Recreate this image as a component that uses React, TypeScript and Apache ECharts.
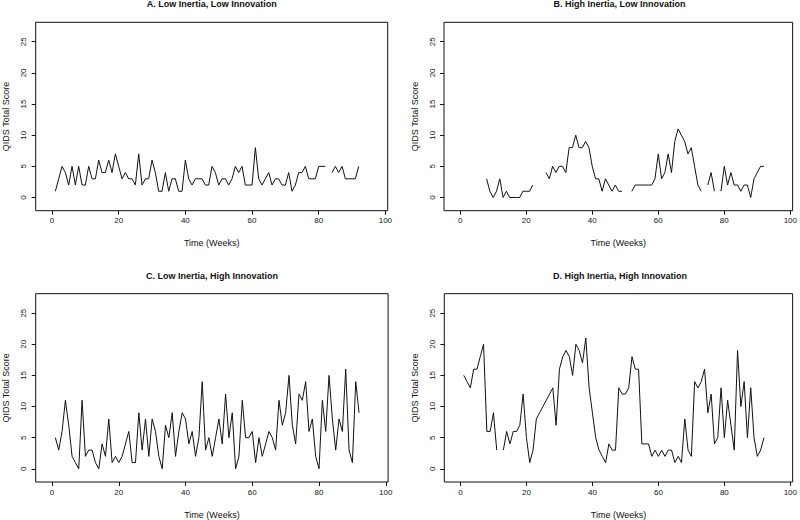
import React, { useEffect, useRef } from "react";
import * as echarts from "echarts";

const panelTitles = [
  "A. Low Inertia, Low Innovation",
  "B. High Inertia, Low Innovation",
  "C. Low Inertia, High Innovation",
  "D. High Inertia, High Innovation",
];

const xAxisTitle = "Time (Weeks)";
const yAxisTitle = "QIDS Total Score";

const xTicks = [0, 20, 40, 60, 80, 100];
const yTicks = [0, 5, 10, 15, 20, 25];

// QIDS scores by week (week 1..92); null = missing week
const lowInertiaLowInnovation = [
  1, 3, 5, 4, 2, 5, 2, 5, 2, 2, 5, 3, 3, 6, 4, 4, 6, 4, 7, 5,
  3, 4, 3, 3, 2, 7, 2, 3, 3, 6, 4, 1, 1, 4, 1, 3, 3, 1, 1, 6,
  3, 2, 3, 3, 3, 2, 2, 5, 4, 2, 3, 3, 2, 3, 5, 4, 5, 2, 2, 2,
  8, 3, 2, 3, 4, 2, 3, 3, 2, 2, 4, 1, 2, 4, 4, 5, 3, 3, 3, 5,
  5, 5, null, 4, 5, 4, 5, 3, 3, 3, 3, 5,
];

const highInertiaLowInnovation = [
  null, null, null, null, null, null, null, 3, 1, 0, 1, 3, 0, 1, 0, 0, 0, 0, 1, 1,
  1, 2, null, null, null, 4, 3, 5, 4, 5, 5, 4, 8, 8, 10, 8, 8, 9, 8, 5,
  3, 3, 1, 3, 2, 1, 2, 1, 1, null, null, 1, 2, 2, 2, 2, 2, 2, 3, 7,
  3, 4, 7, 4, 9, 11, 10, 9, 7, 8, 5, 2, 1, null, 2, 4, 1, null, 1, 5,
  2, 4, 2, 2, 1, 2, 2, 0, 3, 4, 5, 5,
];

const lowInertiaHighInnovation = [
  5, 3, 6, 11, 7, 2, 1, 0, 11, 2, 3, 3, 1, 0, 4, 2, 8, 1, 2, 1,
  2, 4, 6, 1, 1, 9, 3, 8, 2, 8, 6, 2, 0, 7, 5, 9, 2, 6, 9, 8,
  4, 6, 2, 5, 14, 3, 5, 2, 5, 8, 4, 12, 5, 9, 0, 2, 11, 5, 5, 6,
  1, 5, 2, 4, 6, 5, 3, 11, 7, 9, 15, 7, 4, 12, 11, 14, 6, 8, 2, 0,
  11, 6, 15, 8, 3, 8, 6, 16, 3, 1, 14, 9,
];

const highInertiaHighInnovation = [
  15, 14, 13, 16, 16, 18, 20, 6, 6, 9, 3, null, 3, 6, 4, 6, 6, 7, 12, 5,
  1, 3, 8, 9, 10, 11, 12, 13, 7, 16, 18, 19, 18, 15, 20, 19, 17, 21, 13, 9,
  5, 3, 2, 1, 4, 3, 3, 13, 12, 12, 13, 18, 16, 16, 4, 4, 4, 2, 3, 2,
  3, 2, 3, 3, 1, 2, 1, 8, 3, 2, 14, 13, 14, 16, 9, 12, 4, 5, 13, 5,
  11, 7, 3, 19, 10, 14, 5, 13, 5, 2, 3, 5,
];

const panelSeries = [
  lowInertiaLowInnovation,
  highInertiaLowInnovation,
  lowInertiaHighInnovation,
  highInertiaHighInnovation,
];

const X_MIN = -4.9;
const X_MAX = 100.7;
const Y_MIN = -2.12;
const Y_MAX = 28.12;

const grids = [
  { left: 35.7, top: 22.3, width: 352, height: 188.4 },
  { left: 444, top: 22.3, width: 351, height: 188.4 },
  { left: 35.7, top: 293.7, width: 352.4, height: 188.6 },
  { left: 444.3, top: 293.7, width: 351.4, height: 188.6 },
];

const FONT = "'Liberation Sans', Arial, Helvetica, sans-serif";
const INK = "#111";

export default function App() {
  const ref = useRef<HTMLDivElement>(null);

  useEffect(() => {
    if (!ref.current) return;
    const chart = echarts.init(ref.current, undefined, { renderer: "svg" });

    const option: any = {
      animation: false,
      backgroundColor: "#fff",
      textStyle: { fontFamily: FONT, color: INK },
      grid: grids.map((g) => ({
        ...g,
        show: true,
        borderColor: INK,
        borderWidth: 1,
        backgroundColor: "transparent",
        containLabel: false,
      })),
      xAxis: grids.map((_, i) => ({
        type: "value",
        gridIndex: i,
        position: "bottom",
        min: X_MIN,
        max: X_MAX,
        axisLine: { show: false, onZero: false },
        splitLine: { show: false },
        axisTick: {
          show: true,
          inside: false,
          customValues: xTicks,
          length: 4,
          lineStyle: { color: INK, width: 1 },
        },
        axisLabel: {
          show: true,
          customValues: xTicks,
          margin: 6,
          fontSize: 8,
          color: INK,
          fontFamily: FONT,
        },
        name: xAxisTitle,
        nameLocation: "middle",
        nameGap: 28,
        nameTextStyle: { fontSize: 9, color: INK, fontFamily: FONT },
      })),
      yAxis: grids.map((_, i) => ({
        type: "value",
        gridIndex: i,
        position: "left",
        min: Y_MIN,
        max: Y_MAX,
        axisLine: { show: false, onZero: false },
        splitLine: { show: false },
        axisTick: {
          show: true,
          inside: false,
          customValues: yTicks,
          length: 4,
          lineStyle: { color: INK, width: 1 },
        },
        axisLabel: {
          show: true,
          customValues: yTicks,
          rotate: 90,
          margin: 8,
          fontSize: 8,
          color: INK,
          fontFamily: FONT,
        },
        name: yAxisTitle,
        nameLocation: "middle",
        nameRotate: 90,
        nameGap: 25,
        nameTextStyle: { fontSize: 9, color: INK, fontFamily: FONT },
      })),
      series: panelSeries.map((vals, i) => ({
        type: "line",
        xAxisIndex: i,
        yAxisIndex: i,
        data: vals.map((v, k) => [k + 1, v === null ? "-" : v]),
        showSymbol: false,
        symbol: "none",
        connectNulls: false,
        lineStyle: { color: INK, width: 1 },
        silent: true,
      })),
      graphic: grids.map((g, i) => ({
        type: "text",
        x: g.left + g.width / 2,
        y: g.top - 18,
        style: {
          text: panelTitles[i],
          fontSize: 9,
          fontWeight: "bold",
          fontFamily: FONT,
          fill: INK,
          textAlign: "center",
          textVerticalAlign: "middle",
        },
      })),
    };

    chart.setOption(option);
    return () => chart.dispose();
  }, []);

  return (
    <div
      ref={ref}
      style={{ position: "absolute", left: 0, top: 0, width: 800, height: 520 }}
    />
  );
}
